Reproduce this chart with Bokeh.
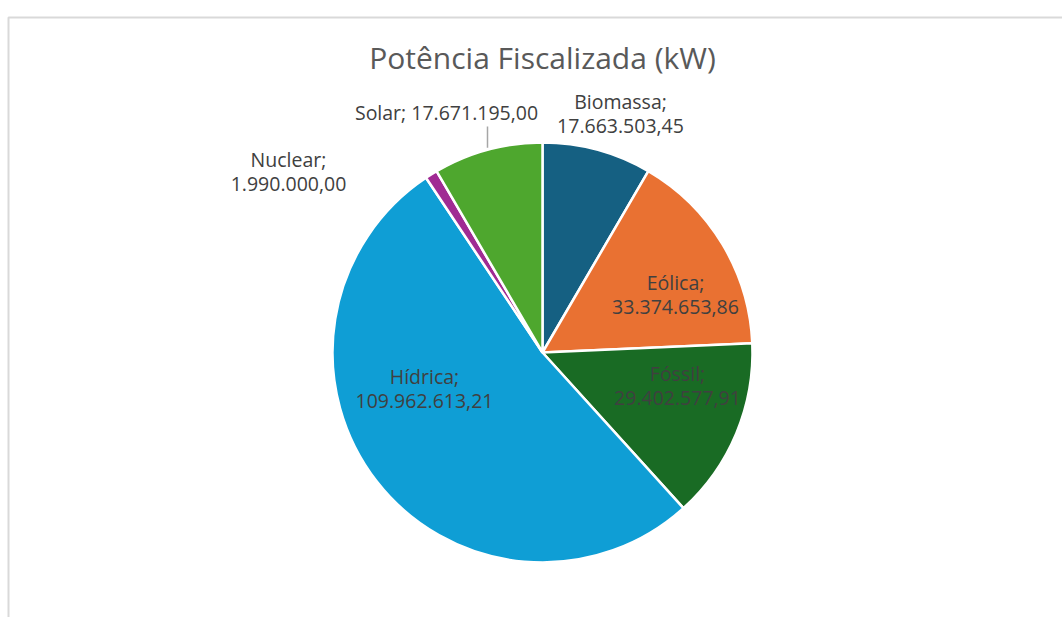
import math
from bokeh.plotting import figure
from bokeh.models import ColumnDataSource
from bokeh.core.properties import value
from bokeh.embed import file_html
from bokeh.resources import INLINE

# ---- data ----
categories = ["Biomassa", "Eólica", "Fóssil", "Hídrica", "Nuclear", "Solar"]
values = [17663503.45, 33374653.86, 29402577.91, 109962613.21, 1990000.00, 17671195.00]
value_labels = ["17.663.503,45", "33.374.653,86", "29.402.577,91",
                "109.962.613,21", "1.990.000,00", "17.671.195,00"]
colors = ["#156082", "#E97132", "#196B24", "#0F9ED5", "#A02B93", "#4EA72E"]
title = "Potência Fiscalizada (kW)"

# ---- layout (pixels; 1 data unit = 1 px) ----
W, H = 1062, 617
CX, CY = 542, 352          # pie centre in screen px
R = 210
# label block centres relative to pie centre (dx right, dy up) and line-break style
label_offsets = [(78, 239), (133, 58), (135, -33), (-118, -36), (-254, 181), (-96, 240)]
label_sep = ["\n", "\n", "\n", "\n", "\n", " "]
leader_dx, leader_top = -55, 226

p = figure(width=W, height=H, output_backend="svg", toolbar_location=None,
           x_range=(-CX, W - CX), y_range=(CY - H, CY),
           min_border=0, outline_line_color=None, background_fill_color="white",
           border_fill_color="white")
p.axis.visible = False
p.grid.visible = False

# chart-area border (cut off at right/bottom like the reference)
p.quad(left=[8 - CX], right=[W - CX + 50], top=[CY - 17], bottom=[CY - H - 50],
       fill_color=None, line_color="#d9d9d9", line_width=2)

total = sum(values)
starts, ends = [], []
a = math.pi / 2
for v in values:
    starts.append(a)
    a -= v / total * 2 * math.pi
    ends.append(a)

src = ColumnDataSource(dict(cat=categories, val=values, start=starts, end=ends, color=colors))
p.wedge(x=0, y=0, radius=R, start_angle="start", end_angle="end", direction="clock",
        fill_color="color", line_color="white", line_width=2.5, source=src)

# leader line for Solar label
edge_y = math.sqrt(R * R - leader_dx * leader_dx)
p.segment(x0=[leader_dx], y0=[edge_y + 2], x1=[leader_dx], y1=[leader_top],
          line_color="#a6a6a6", line_width=1.5)

texts = [f"{c};{s}{v}" for c, s, v in zip(categories, label_sep, value_labels)]
p.text(x=[o[0] for o in label_offsets], y=[o[1] for o in label_offsets], text=texts,
       text_align="center", text_baseline="middle", text_font=value("Open Sans"),
       text_font_size="19.5px", text_color="#404040", text_line_height=0.92)

p.text(x=[0], y=[CY - 57], text=[title], text_align="center", text_baseline="middle",
       text_font=value("Open Sans"), text_font_size="30px", text_color="#595959")

open("out.html", "w").write(file_html(p, INLINE))
